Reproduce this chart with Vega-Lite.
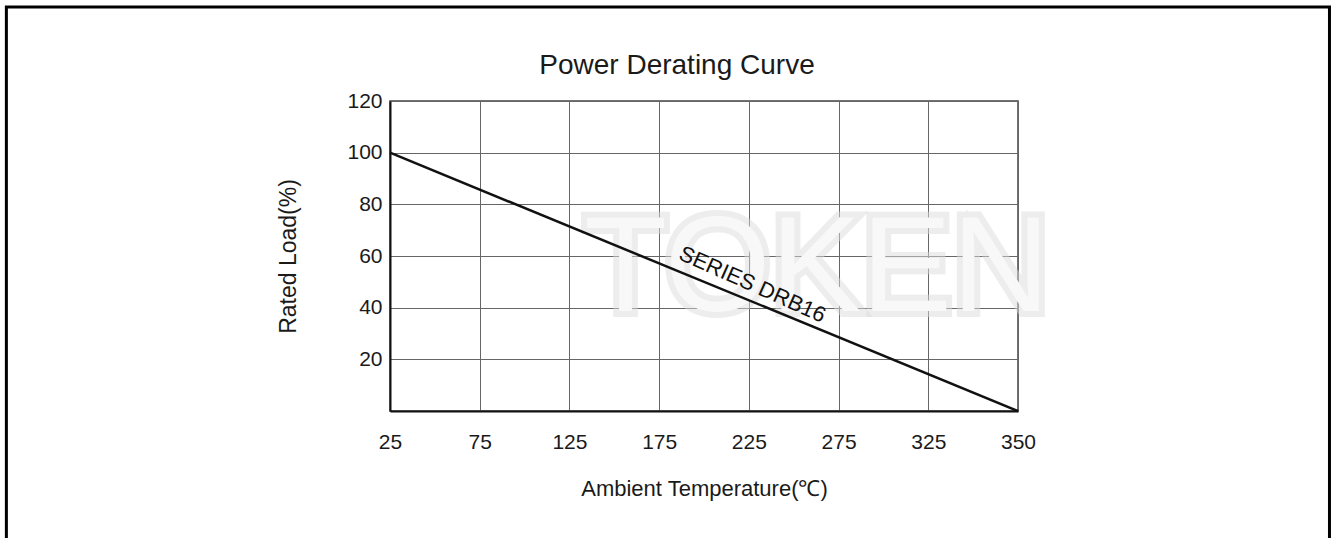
{
  "$schema": "https://vega.github.io/schema/vega-lite/v6.json",
  "width": 628,
  "height": 310,
  "autosize": {"type": "none"},
  "padding": {"left": 390, "top": 101, "right": 321, "bottom": 127},
  "background": "white",
  "title": {"text": "Power Derating Curve", "font": "Liberation Sans", "fontSize": 28, "fontWeight": "normal", "color": "#1a1a1a", "anchor": "middle", "dx": -27, "baseline": "alphabetic", "offset": -96.5},
  "config": {
    "view": {"stroke": "#444", "strokeWidth": 1.5},
    "font": "Liberation Sans"
  },
  "datasets": {
    "curve": [
      {"temp": 25, "load": 100},
      {"temp": 350, "load": 0}
    ],
    "label": [
      {"temp": 227, "load": 49, "text": "SERIES DRB16"}
    ],
    "mark": [
      {"temp": 263, "load": 54.5, "text": "TOKEN"}
    ]
  },
  "layer": [
    {
      "data": {"name": "mark"},
      "mark": {"type": "text", "font": "Liberation Sans", "fontSize": 136, "fontWeight": "normal", "fill": "#f6f6f6", "stroke": "#dcdcdc", "strokeWidth": 12, "strokeOpacity": 0.5, "align": "center", "baseline": "middle"},
      "encoding": {
        "x": {"field": "temp", "type": "quantitative"},
        "y": {"field": "load", "type": "quantitative"},
        "text": {"field": "text"}
      }
    },
    {
      "data": {"name": "mark"},
      "mark": {"type": "text", "font": "Liberation Sans", "fontSize": 136, "fontWeight": "normal", "fill": "#f8f8f8", "align": "center", "baseline": "middle"},
      "encoding": {
        "x": {"field": "temp", "type": "quantitative"},
        "y": {"field": "load", "type": "quantitative"},
        "text": {"field": "text"}
      }
    },
    {
      "data": {"name": "curve"},
      "mark": {"type": "line", "color": "#111", "strokeWidth": 2.5},
      "encoding": {
        "x": {
          "field": "temp", "type": "quantitative",
          "scale": {"domain": [25, 325, 350], "range": [0, 538.29, 628], "nice": false, "zero": false},
          "axis": {
            "values": [25, 75, 125, 175, 225, 275, 325, 350],
            "title": "Ambient Temperature(℃)",
            "titleFont": "Liberation Sans", "titleFontSize": 22, "titleFontWeight": "normal", "titleColor": "#1a1a1a", "titlePadding": 26,
            "labelFont": "Liberation Sans", "labelFontSize": 21, "labelColor": "#1a1a1a", "labelPadding": 20,
            "ticks": false, "domainColor": "#111", "domainWidth": 2,
            "grid": true, "gridColor": "#666", "gridWidth": 1, "labelFlush": false
          }
        },
        "y": {
          "field": "load", "type": "quantitative",
          "scale": {"domain": [0, 120], "nice": false},
          "axis": {
            "values": [20, 40, 60, 80, 100, 120],
            "title": "Rated Load(%)",
            "titleFont": "Liberation Sans", "titleFontSize": 23, "titleFontWeight": "normal", "titleColor": "#1a1a1a", "titlePadding": 46,
            "labelFont": "Liberation Sans", "labelFontSize": 21, "labelColor": "#1a1a1a", "labelPadding": 8,
            "ticks": false, "domainColor": "#111", "domainWidth": 2,
            "grid": true, "gridColor": "#666", "gridWidth": 1
          }
        }
      }
    },
    {
      "data": {"name": "label"},
      "mark": {"type": "text", "font": "Liberation Sans", "fontSize": 22, "color": "#111", "angle": 24, "align": "center", "baseline": "middle"},
      "encoding": {
        "x": {"field": "temp", "type": "quantitative"},
        "y": {"field": "load", "type": "quantitative"},
        "text": {"field": "text"}
      }
    },
    {
      "data": {"values": [{}]},
      "mark": {"type": "rect", "fill": null, "stroke": "black", "strokeWidth": 3, "clip": false},
      "encoding": {
        "x": {"datum": -188.8},
        "x2": {"datum": 436.8},
        "y": {"datum": 156.4},
        "y2": {"datum": -70}
      }
    }
  ]
}
